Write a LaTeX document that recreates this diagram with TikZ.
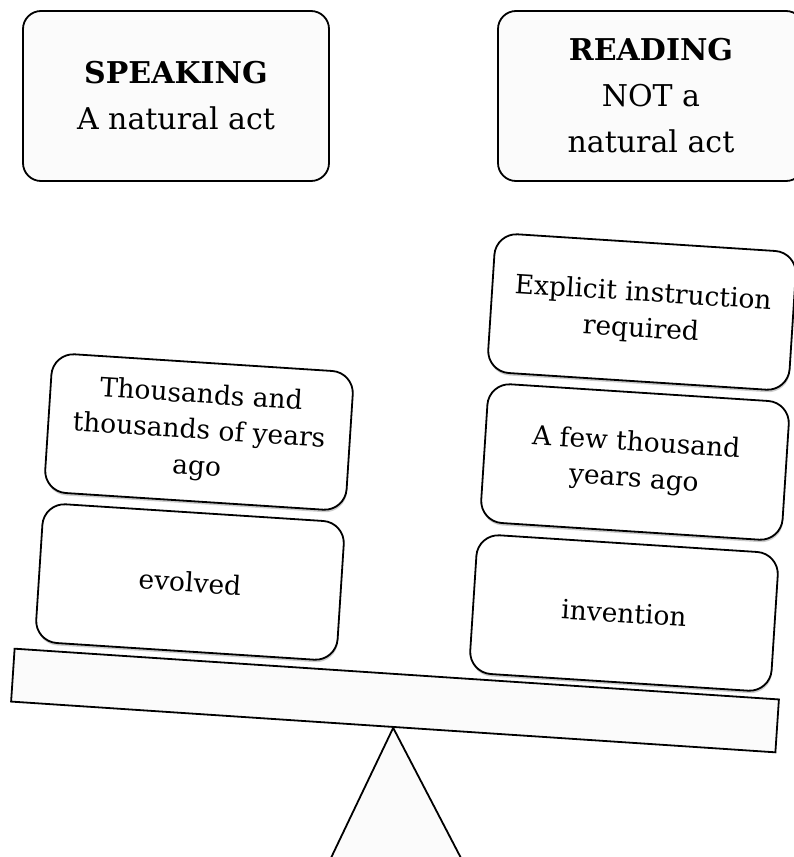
\documentclass[tikz,border=0pt]{standalone}
\usepackage{fontspec}
\setmainfont{DejaVu Serif}
\usepackage{tikz}
\usetikzlibrary{positioning,shadows}

\begin{document}
\begin{tikzpicture}[
	x=1pt, y=1pt,
	topbox/.style={rectangle, rounded corners=18pt, draw=black, fill=gray!3, line width=1.8pt, minimum width=306pt, minimum height=170pt, align=center, font=\fontsize{30}{46}\selectfont},
	cardbox/.style={rectangle, rounded corners=22pt, draw=black, fill=white, line width=1.8pt, minimum width=302pt, minimum height=139pt, align=center, rotate=-3.7, font=\fontsize{26.5}{36}\selectfont, drop shadow={shadow xshift=0.5pt, shadow yshift=-2.5pt, opacity=0.4}},
	plankbox/.style={rectangle, draw=black, fill=gray!3, line width=1.8pt, minimum width=766pt, minimum height=53pt, rotate=-3.8},
	]
	\useasboundingbox (0,0) rectangle (794,-857);
	\clip (0,0) rectangle (794,-857);

	%Headings
	\node[topbox](speak) at (176,-96){{\bfseries SPEAKING}\\A natural act};
	\node[topbox](read) at (651,-96){{\bfseries READING}\\NOT a\\natural act};

	%Seesaw
	\node[plankbox](plank) at (395,-700.5){};
	\draw[line width=1.8pt, fill=gray!3] (plank.south) -- (330,-860) -- (462,-860) -- cycle;

	%Cards
	\node[cardbox](evolved) at (190,-582){evolved};
	\node[cardbox](longago) at (199,-432){Thousands and\\thousands of years\\ago};
	\node[cardbox](invention) at (624,-613){invention};
	\node[cardbox](fewago) at (635,-462){A few thousand\\years ago};
	\node[cardbox](explicit) at (642,-312){Explicit instruction\\required};

\end{tikzpicture}
\end{document}
